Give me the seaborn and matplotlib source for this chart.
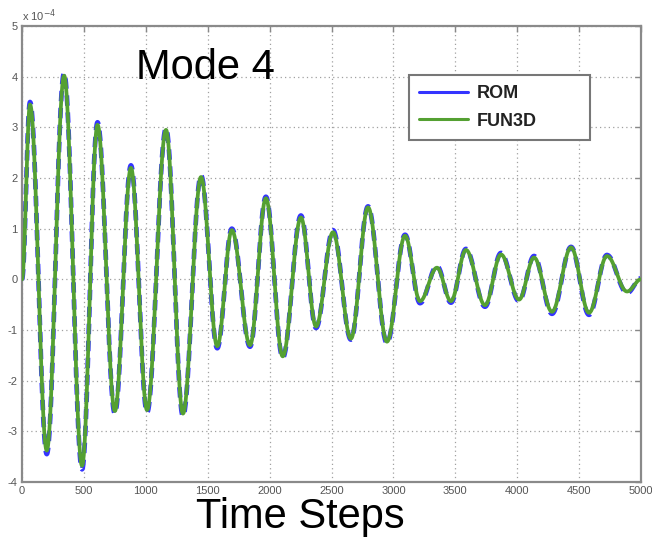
import numpy as np
import pandas as pd
import matplotlib
matplotlib.use("Agg")
import matplotlib.pyplot as plt
import seaborn as sns
from matplotlib.lines import Line2D

# Extrema (time step, amplitude in units of 1e-4)
t_ext = [0, 65, 200, 340, 485, 610, 750, 880, 1010, 1163, 1300, 1446, 1577, 1695,
         1842, 1970, 2106, 2253, 2375, 2512, 2657, 2795, 2948, 3094, 3215, 3352,
         3465, 3586, 3740, 3869, 4015, 4136, 4281, 4435, 4580, 4725, 4887, 5000]
fun3d = [0.0, 3.45, -3.38, 4.02, -3.68, 3.05, -2.60, 2.20, -2.58, 2.95, -2.65, 2.02,
         -1.32, 0.97, -1.30, 1.60, -1.52, 1.22, -0.93, 0.93, -1.17, 1.42, -1.23, 0.86,
         -0.43, 0.23, -0.43, 0.58, -0.51, 0.49, -0.40, 0.43, -0.64, 0.63, -0.66, 0.46,
         -0.24, 0.0]
rom = [0.0, 3.50, -3.45, 4.07, -3.75, 3.10, -2.65, 2.25, -2.63, 2.98, -2.70, 2.05,
       -1.36, 1.00, -1.33, 1.63, -1.55, 1.26, -0.96, 0.97, -1.19, 1.44, -1.26, 0.88,
       -0.47, 0.26, -0.46, 0.60, -0.54, 0.52, -0.43, 0.46, -0.68, 0.64, -0.70, 0.48,
       -0.27, 0.02]
series_names = ["ROM", "FUN3D"]
x_ticks = [0, 500, 1000, 1500, 2000, 2500, 3000, 3500, 4000, 4500, 5000]
y_ticks = [-4, -3, -2, -1, 0, 1, 2, 3, 4, 5]


def smooth(tk, yk, n=40):
    # draw smooth half-cosine strokes between consecutive extrema
    xs, ys = [], []
    for i in range(len(tk) - 1):
        s = np.linspace(0, 1, n, endpoint=False)
        xs.append(tk[i] + (tk[i + 1] - tk[i]) * s)
        ys.append(yk[i] + (yk[i + 1] - yk[i]) * (1 - np.cos(np.pi * s)) / 2)
    xs.append([tk[-1]])
    ys.append([yk[-1]])
    return np.concatenate(xs), np.concatenate(ys)


frames = []
for name, vals in zip(series_names, [rom, fun3d]):
    x, y = smooth(t_ext, vals)
    frames.append(pd.DataFrame({"Time Steps": x, "value": y, "series": name}))
df = pd.concat(frames, ignore_index=True)

sns.set_style("white")
plt.rcParams["font.family"] = ["Liberation Sans", "DejaVu Sans"]
plt.rcParams["axes.unicode_minus"] = False

fig = plt.figure(figsize=(6.52, 5.4), dpi=100)
ax = fig.add_axes([22 / 652, 58 / 540, 619 / 652, 456 / 540])

palette = {"ROM": "#3434ff", "FUN3D": "#54a032"}
sizes = {"ROM": 3.4, "FUN3D": 2.7}
sns.lineplot(data=df, x="Time Steps", y="value", hue="series", size="series",
             sizes=sizes, palette=palette, ax=ax, sort=False, estimator=None,
             legend=False)
# ROM drawn dashed underneath the FUN3D line
ax.lines[0].set_dashes((2.2, 1.4))
ax.lines[0].set_zorder(2)
ax.lines[1].set_zorder(3)

ax.set_xlim(0, 5000)
ax.set_ylim(-4, 5)
ax.set_xticks(x_ticks)
ax.set_yticks(y_ticks)
ax.set_xticklabels([str(v) for v in x_ticks])
ax.set_yticklabels([str(v) for v in y_ticks])
ax.set_xlabel("")
ax.set_ylabel("")
ax.grid(True, linestyle=(0, (1, 2.5)), color="#a0a0a0", linewidth=0.9)
ax.tick_params(direction="in", length=4, width=1, color="#888888",
               labelcolor="#555555", labelsize=8, top=True, right=True, pad=3)
for sp in ax.spines.values():
    sp.set_color("#8a8a8a")
    sp.set_linewidth(1.6)

handles = [Line2D([], [], color=palette[n], lw=2.2) for n in series_names]
leg = ax.legend(handles, series_names, loc="upper left", mode="expand",
                bbox_to_anchor=((409 - 22) / 619, (482 - 137) / 456,
                                181 / 619, 62 / 456),
                prop={"weight": "bold", "size": 13}, handlelength=2.7,
                frameon=True, fancybox=False, framealpha=1, borderpad=0.55,
                labelspacing=0.6, handletextpad=0.5, borderaxespad=0)
leg.get_frame().set_edgecolor("#777777")
leg.get_frame().set_linewidth(1.5)
for t in leg.get_texts():
    t.set_color("#222222")

fig.text(205 / 652, 1 - 68 / 540, "Mode 4", fontsize=30, ha="center", va="center",
         color="black")
fig.text(300 / 652, 1 - 517 / 540, "Time Steps", fontsize=30, ha="center",
         va="center", color="black")
fig.text(22 / 652, 1 - 16 / 540, r"x 10$^{-4}$", fontsize=8, ha="left",
         va="center", color="#555555")

fig.savefig("out.png", dpi=100)
